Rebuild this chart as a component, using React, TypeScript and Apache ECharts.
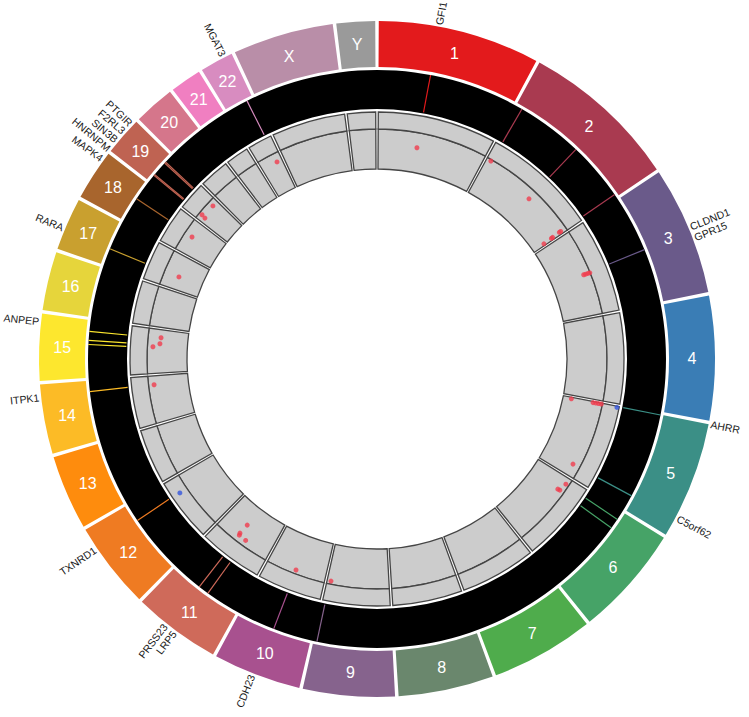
import React, { useEffect, useRef } from 'react';
import * as echarts from 'echarts';

// ---------- data ----------
const chromosomes = ['1','2','3','4','5','6','7','8','9','10','11','12','13','14','15','16','17','18','19','20','21','22','X','Y'];
const chromSizesMb = [249.25,243.2,198.0,191.15,180.9,171.1,159.1,146.4,141.2,135.5,135.0,133.85,115.2,107.35,102.5,90.35,81.2,78.1,59.1,63.0,48.1,51.3,155.3,59.4];
const chromColors = ['#e31a1c','#a93a50','#6a5a8a','#3a7db5','#3b8f86','#46a367','#4fac4c','#6a876d','#86638d','#a8518f','#cf6a5a','#ef7b22','#fe8c0d','#fcbb26','#fde72e','#e6d53b','#c9a02f','#a8652d','#bf6352','#d5768b','#f07fc1','#d88cc0','#b98ea8','#9a9a9a'];

// sites linked from the ideogram to the inner track [chromosome, position Mb]
const linkSites: [string, number][] = [
  ['1',93],['2',12.3],['2',132.3],['2',238],['3',101],['5',0.4],['5',153.5],['6',16],['6',34.7],
  ['9',135],['10',68.5],['11',61],['11',80],['12',101.3],['14',88],['15',59],['15',66.3],['15',82.4],
  ['17',30.5],['18',45],['19',13],['19',15],['19',42],['19',44.5],['22',40]
];
// red points (inner track) [chromosome, position Mb, value 0-10]
const hyperSites: [string, number, number][] = [
  ['1',93.2,6.25],['2',10.5,9.6],['2',132.3,7.7],['2',238.9,3.2],['2',238.4,5.5],['2',238.0,5.9],['2',237.2,8.0],['2',237.5,8.4],
  ['3',101.6,8.3],['3',102.0,8.8],['3',102.4,9.4],['3',102.8,9.9],
  ['5',4.0,2.1],['5',2.6,7.6],['5',2.4,8.3],['5',2.2,9.0],['5',2.0,9.7],
  ['5',153,8.1],['6',14.5,9.15],['6',33.3,8.75],['6',34.2,8.2],
  ['9',132.3,9.2],['10',69.0,9.0],
  ['11',80.4,5.2],['11',82.2,7.9],['11',80.4,8.4],['11',61.6,8.5],
  ['14',87,8.6],['15',61.3,8.6],['15',69.3,6.9],['15',83.7,6.75],
  ['17',31.3,6.1],['18',42.3,7.9],
  ['19',44.9,8.6],['19',13.5,9.2],['19',11.7,8.1],
  ['22',38.5,7.75]
];
// blue points (outer track) [chromosome, position Mb, value 0-10]
const hypoSites: [string, number, number][] = [
  ['5',2.5,8.7],['12',99.5,4.9]
];
// gene labels [text, chromosome, position Mb]
const geneLabels: [string, string, number][] = [
  ['GFI1','1',92],['CLDND1\nGPR15','3',104],['AHRR','5',0],['C5orf62','5',150],
  ['CDH23','10',74],['PRSS23\nLRP5','11',76],['TXNRD1','12',101],['ITPK1','14',88],
  ['ANPEP','15',89.5],['RARA','17',33],['MAPK4','18',66],['PTGIR','19',50],
  ['F2RL3\nSIN3B\nHNRNPM','19',18],['MGAT3','22',38]
];

// ---------- layout ----------
const GAP_MB = 5.374;
const chromStart: Record<string, number> = {};
const chromIndex: Record<string, number> = {};
let acc = GAP_MB / 2;
chromosomes.forEach((c, i) => { chromStart[c] = acc; chromIndex[c] = i; acc += chromSizesMb[i] + GAP_MB; });
const TOTAL = acc - GAP_MB / 2;

const R_OUT = 338, R_IDEO_IN = 292, R_BLACK_OUT = 289, R_BLACK_IN = 250;
const R_TRACK_OUT = 247, R_TRACK_MID = 230, R_TRACK_IN = 190;
const R_LABEL = 340, R_CHR_TEXT = 315;
const FONT = '"Liberation Sans", Arial, Helvetica, sans-serif';

function sectorShape(params: any, api: any, r0: number, r1: number, a0: number, a1: number) {
  const cs = params.coordSys;
  const cx = cs.cx, cy = cs.cy;
  const p0 = api.coord([r1, a0]);
  const p1 = api.coord([r1, a1]);
  const q0 = api.coord([r0, a0]);
  let s = Math.atan2(p0[1] - cy, p0[0] - cx);
  let e = Math.atan2(p1[1] - cy, p1[0] - cx);
  if (e <= s) e += Math.PI * 2;
  return {
    cx, cy,
    r: Math.hypot(p0[0] - cx, p0[1] - cy),
    r0: Math.hypot(q0[0] - cx, q0[1] - cy),
    startAngle: s, endAngle: e, clockwise: true
  };
}

function textStyle(text: string, fill: string, size: number, align: string) {
  return {
    text, fill, font: `${size}px ${FONT}`,
    align, verticalAlign: 'middle', textAlign: align, textVerticalAlign: 'middle', lineHeight: size + 1
  };
}

export default function App() {
  const ref = useRef<HTMLDivElement>(null);
  useEffect(() => {
    if (!ref.current) return;
    const chart = echarts.init(ref.current, null, { renderer: 'svg' });
    const option: any = {
      animation: false,
      backgroundColor: '#ffffff',
      polar: { center: [377, 359], radius: [0, R_OUT] },
      angleAxis: { type: 'value', min: 0, max: TOTAL, startAngle: 90, clockwise: true, show: false },
      radiusAxis: { type: 'value', min: 0, max: R_OUT, show: false },
      series: [
        {
          type: 'custom', coordinateSystem: 'polar', silent: true,
          data: chromosomes.map((c, i) => [R_OUT, chromStart[c] + chromSizesMb[i] / 2]),
          renderItem: (params: any, api: any) => {
            const i = params.dataIndex; const c = chromosomes[i];
            const a0 = chromStart[c], a1 = a0 + chromSizesMb[i];
            const tp = api.coord([R_CHR_TEXT, (a0 + a1) / 2]);
            return {
              type: 'group', children: [
                { type: 'sector', shape: sectorShape(params, api, R_IDEO_IN, R_OUT, a0, a1), style: { fill: chromColors[i] } },
                { type: 'text', x: tp[0], y: tp[1], style: textStyle(c, '#ffffff', 16, 'center') }
              ]
            };
          }
        },
        {
          type: 'custom', coordinateSystem: 'polar', silent: true,
          data: [[R_BLACK_OUT, 0]],
          renderItem: (params: any, api: any) => {
            const cs = params.coordSys;
            const po = api.coord([R_BLACK_OUT, 0]);
            const pi = api.coord([R_BLACK_IN, 0]);
            return {
              type: 'ring',
              shape: { cx: cs.cx, cy: cs.cy, r: Math.hypot(po[0] - cs.cx, po[1] - cs.cy), r0: Math.hypot(pi[0] - cs.cx, pi[1] - cs.cy) },
              style: { fill: '#000000' }
            };
          }
        },
        {
          type: 'custom', coordinateSystem: 'polar', silent: true,
          data: linkSites.map(([c, p]) => [R_BLACK_OUT, chromStart[c] + p]),
          renderItem: (params: any, api: any) => {
            const [c, p] = linkSites[params.dataIndex];
            const a = chromStart[c] + p;
            const p1 = api.coord([R_BLACK_OUT, a]);
            const p2 = api.coord([R_BLACK_IN + 1, a]);
            return {
              type: 'line', shape: { x1: p1[0], y1: p1[1], x2: p2[0], y2: p2[1] },
              style: { stroke: chromColors[chromIndex[c]], lineWidth: 1.2 }
            };
          }
        },
        {
          type: 'custom', coordinateSystem: 'polar', silent: true,
          data: chromosomes.map((c, i) => [R_TRACK_OUT, chromStart[c] + chromSizesMb[i] / 2]),
          renderItem: (params: any, api: any) => {
            const i = params.dataIndex; const c = chromosomes[i];
            const a0 = chromStart[c], a1 = a0 + chromSizesMb[i];
            const st = { fill: '#cccccc', stroke: '#454545', lineWidth: 1.3 };
            return {
              type: 'group', children: [
                { type: 'sector', shape: sectorShape(params, api, R_TRACK_IN, R_TRACK_MID, a0, a1), style: st },
                { type: 'sector', shape: sectorShape(params, api, R_TRACK_MID, R_TRACK_OUT, a0, a1), style: st }
              ]
            };
          }
        },
        {
          type: 'scatter', coordinateSystem: 'polar', silent: true,
          symbolSize: 5,
          itemStyle: { color: '#f03c4e' },
          data: hyperSites.map(([c, p, v]) => [R_TRACK_IN + v * (R_TRACK_MID - R_TRACK_IN) / 10, chromStart[c] + p])
        },
        {
          type: 'scatter', coordinateSystem: 'polar', silent: true,
          symbolSize: 5,
          itemStyle: { color: '#3355dd' },
          data: hypoSites.map(([c, p, v]) => [R_TRACK_MID + v * (R_TRACK_OUT - R_TRACK_MID) / 10, chromStart[c] + p])
        },
        {
          type: 'custom', coordinateSystem: 'polar', silent: true,
          data: geneLabels.map(([, c, p]) => [R_LABEL, chromStart[c] + p]),
          renderItem: (params: any, api: any) => {
            const cs = params.coordSys;
            const [t, c, p] = geneLabels[params.dataIndex];
            const pt = api.coord([R_LABEL, chromStart[c] + p]);
            const alpha = Math.atan2(pt[1] - cs.cy, pt[0] - cs.cx);
            const right = Math.cos(alpha) >= 0;
            const rotation = right ? -alpha : Math.PI - alpha;
            return {
              type: 'text', x: pt[0], y: pt[1], rotation,
              style: textStyle(t, '#1a1a1a', 10.5, right ? 'left' : 'right')
            };
          }
        }
      ]
    };
    chart.setOption(option);
    return () => chart.dispose();
  }, []);
  return <div ref={ref} style={{ position: 'fixed', left: 0, top: 0, width: 749, height: 717, background: '#fff' }} />;
}
